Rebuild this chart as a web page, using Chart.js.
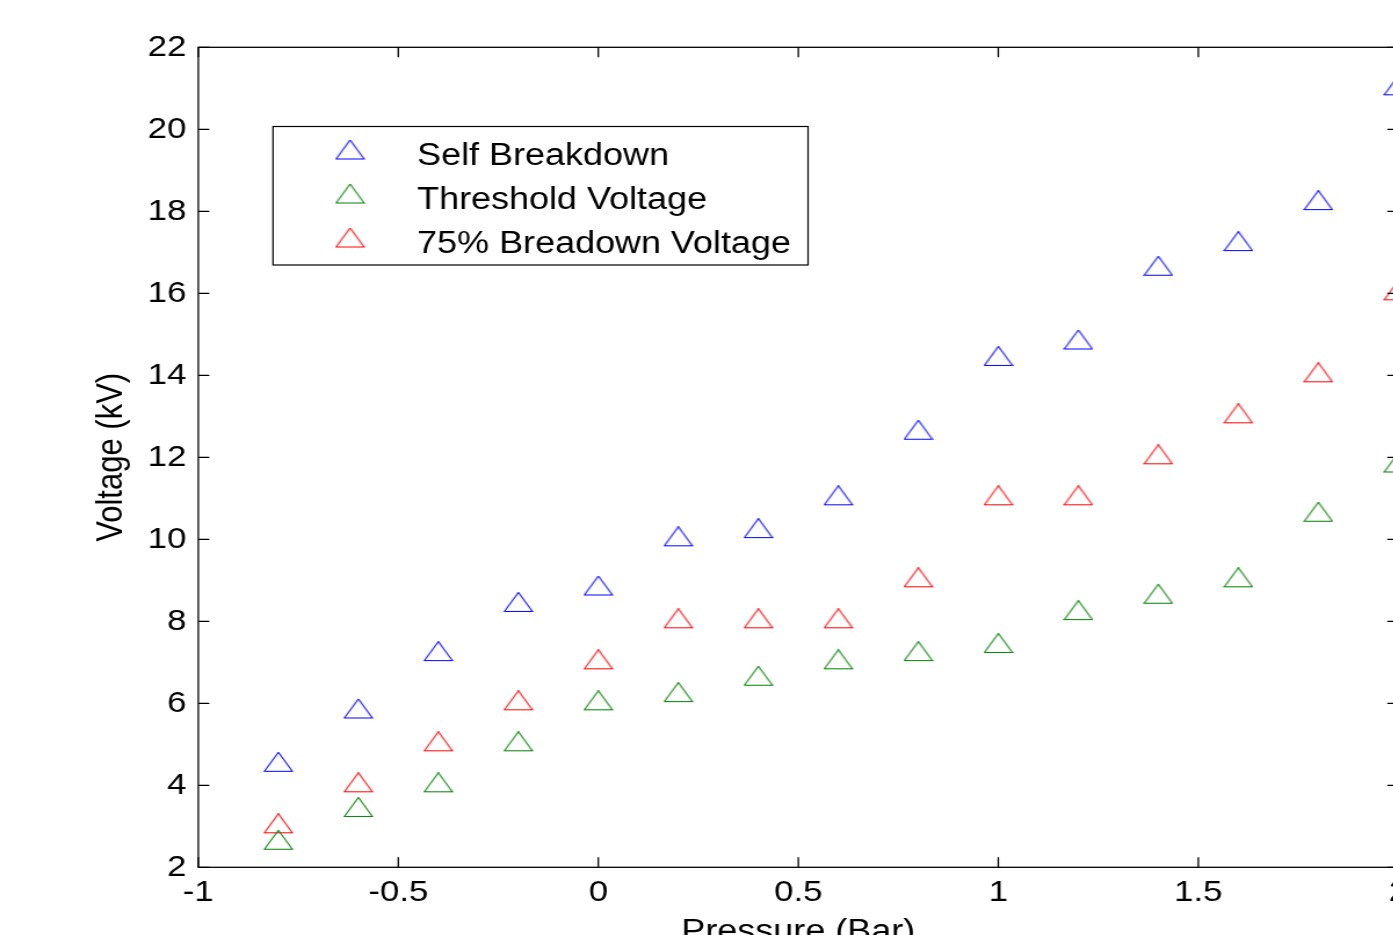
<!DOCTYPE html>
<html>
<head>
<meta charset="utf-8">
<script src="https://cdn.jsdelivr.net/npm/chart.js@4/dist/chart.umd.min.js"></script>
<style>
  html, body { margin: 0; padding: 0; background: #fff; overflow: hidden; }
  #wrap { width: 1393px; height: 935px; overflow: hidden; position: relative; background: #fff; }
</style>
</head>
<body>
<div id="wrap">
  <canvas id="c" width="1224" height="980" style="width:1420px;height:980px;display:block"></canvas>
</div>
<script>
// ---- data ----
const pressure = [-0.8, -0.6, -0.4, -0.2, 0, 0.2, 0.4, 0.6, 0.8, 1.0, 1.2, 1.4, 1.6, 1.8, 2.0];
const selfBreakdown = [4.5, 5.8, 7.2, 8.4, 8.8, 10.0, 10.2, 11.0, 12.6, 14.4, 14.8, 16.6, 17.2, 18.2, 21.0];
const thresholdVoltage = [2.6, 3.4, 4.0, 5.0, 6.0, 6.2, 6.6, 7.0, 7.2, 7.4, 8.2, 8.6, 9.0, 10.6, 11.8];
const breakdown75 = [3, 4, 5, 6, 7, 8, 8, 8, 9, 11, 11, 12, 13, 14, 16];
const seriesNames = ['Self Breakdown', 'Threshold Voltage', '75% Breadown Voltage'];
const seriesColors = ['#0000FF', '#008000', '#FF0000'];
const xTitle = 'Pressure (Bar)';
const yTitle = 'Voltage (kV)';

const FONT = "'Liberation Sans', Arial, Helvetica, sans-serif";

function triangleImage(color) {
  const c = document.createElement('canvas');
  c.width = 26; c.height = 26;
  const g = c.getContext('2d');
  g.strokeStyle = color;
  g.lineWidth = 1.1;
  g.beginPath();
  g.moveTo(13, 0.5);
  g.lineTo(0.9, 19.5);
  g.lineTo(25.1, 19.5);
  g.closePath();
  g.stroke();
  return c;
}
const markers = seriesColors.map(triangleImage);

function toPoints(ys) { return pressure.map((x, i) => ({ x: x, y: ys[i] })); }
const allSeries = [selfBreakdown, thresholdVoltage, breakdown75];

const datasets = allSeries.map((ys, i) => ({
  label: seriesNames[i],
  data: toPoints(ys),
  pointStyle: markers[i],
  borderColor: seriesColors[i],
  backgroundColor: seriesColors[i],
  showLine: false
}));

const boxPlugin = {
  id: 'matlabBox',
  afterDatasetsDraw(chart) {
    const { ctx, chartArea: a, scales } = chart;
    ctx.save();
    ctx.strokeStyle = '#000';
    ctx.lineWidth = 1.3;
    ctx.strokeRect(a.left, a.top, a.right - a.left, a.bottom - a.top);
    ctx.beginPath();
    scales.x.ticks.forEach(t => {
      const px = scales.x.getPixelForValue(t.value);
      ctx.moveTo(px, a.bottom); ctx.lineTo(px, a.bottom - 10);
      ctx.moveTo(px, a.top); ctx.lineTo(px, a.top + 10);
    });
    scales.y.ticks.forEach(t => {
      const py = scales.y.getPixelForValue(t.value);
      ctx.moveTo(a.left, py); ctx.lineTo(a.left + 9.5, py);
      ctx.moveTo(a.right, py); ctx.lineTo(a.right - 9.5, py);
    });
    ctx.stroke();
    ctx.restore();
  },
  afterDraw(chart) {
    const ctx = chart.ctx;
    const L = 235.3, R = 696.5, T = 126.5, B = 265;
    ctx.save();
    ctx.fillStyle = '#fff';
    ctx.fillRect(L, T, R - L, B - T);
    ctx.strokeStyle = '#000';
    ctx.lineWidth = 1.2;
    ctx.strokeRect(L, T, R - L, B - T);
    ctx.font = '31px ' + FONT;
    ctx.fillStyle = '#000';
    ctx.textBaseline = 'alphabetic';
    ctx.textAlign = 'left';
    chart.data.datasets.forEach((ds, i) => {
      const base = 164.5 + 44 * i;
      const img = ds.pointStyle;
      ctx.drawImage(img, 301.7 - img.width / 2, base - 12 - img.height / 2);
      ctx.fillText(ds.label, 359.5, base);
    });
    ctx.restore();
  }
};

new Chart(document.getElementById('c'), {
  type: 'scatter',
  data: { datasets: datasets },
  options: {
    responsive: false,
    animation: false,
    devicePixelRatio: 1,
    layout: { padding: { top: 47.3, right: 18.7, left: 0, bottom: 0 } },
    plugins: { legend: { display: false }, tooltip: { enabled: false } },
    elements: { point: { radius: 10, hoverRadius: 10 } },
    scales: {
      x: {
        type: 'linear', position: 'bottom', min: -1, max: 2,
        ticks: { stepSize: 0.5, color: '#000', font: { family: FONT, size: 30 }, padding: 7.5, maxRotation: 0, autoSkip: false,
                 callback: v => String(Math.round(v * 10) / 10) },
        grid: { display: false, drawTicks: false },
        border: { display: false },
        title: { display: true, text: xTitle, color: '#000', font: { family: FONT, size: 31 }, padding: { top: 0, bottom: 29 } },
        afterFit(s) { s.height = 112.7; s.paddingLeft = 0; s.paddingRight = 0; }
      },
      y: {
        type: 'linear', position: 'left', min: 2, max: 22,
        ticks: { stepSize: 2, color: '#000', font: { family: FONT, size: 30 }, padding: 10.2,
                 callback: v => String(v) },
        grid: { display: false, drawTicks: false },
        border: { display: false },
        title: { display: true, text: yTitle, color: '#000', font: { family: FONT, size: 31 }, padding: { top: 78, bottom: 0 } },
        afterFit(s) { s.width = 170.93; s.paddingTop = 0; s.paddingBottom = 0; }
      }
    }
  },
  plugins: [boxPlugin]
});
</script>
</body>
</html>
